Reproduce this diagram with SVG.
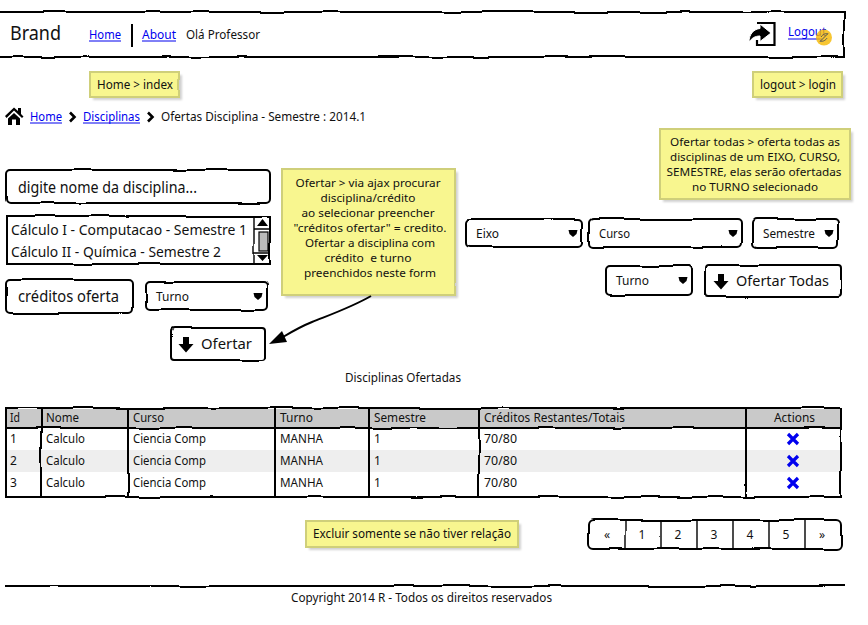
<svg xmlns="http://www.w3.org/2000/svg" width="868" height="625" viewBox="0 0 868 625">
<style>
text{font-family:"Noto Sans","Open Sans","DejaVu Sans",sans-serif;font-size:12px;fill:#111}
.c{text-anchor:middle}
.n{font-size:11px}
.lnk{fill:#0000ee}
.ul{stroke:#0000ee;stroke-width:1;fill:none}
.box{fill:#fff;stroke:#000;stroke-width:2;filter:url(#w)}
.ln{fill:none;stroke:#000;stroke-width:2;filter:url(#w)}
.thin{fill:none;stroke:#000;stroke-width:1.4;filter:url(#w)}
.note{fill:#f8f68f;stroke:#cfcf7a;stroke-width:2;filter:url(#w2)}
.shd{fill:#000;opacity:.18;filter:url(#b)}
.ar{fill:#000}
.x{stroke:#0000ee;stroke-width:3.2;fill:none}
</style>
<defs>
<filter id="w" filterUnits="userSpaceOnUse" x="-10" y="0" width="888" height="625">
<feTurbulence type="fractalNoise" baseFrequency="0.03" numOctaves="1" seed="4"/>
<feDisplacementMap in="SourceGraphic" scale="4" xChannelSelector="R" yChannelSelector="G"/>
</filter>
<filter id="w2" filterUnits="userSpaceOnUse" x="0" y="0" width="868" height="625">
<feTurbulence type="fractalNoise" baseFrequency="0.03" numOctaves="1" seed="9"/>
<feDisplacementMap in="SourceGraphic" scale="2"/>
</filter>
<filter id="b"><feGaussianBlur stdDeviation="1.2"/></filter>
<g id="dn"><path class="ar" d="M-3-8H3V-1H7.500L0 7.500-7.500-1H-3Z"/></g>
<path id="tri" class="ar" d="M-4.500-3H4.500L3.500 1 0 4-3.500 1Z"/>
<path id="chev" d="M-2-4.500 2.500 0-2 4.500" fill="none" stroke="#000" stroke-width="2.600"/>
<path id="xx" class="x" d="M-5-5 5 5M5-5-5 5"/>
</defs>

<g id="navbar">
<rect class="box" x="-6" y="12" width="850" height="45"/>
<text x="10" y="40" style="font-size:19px" textLength="51" lengthAdjust="spacingAndGlyphs">Brand</text>
<text class="lnk" x="89" y="39" style="font-size:13px" textLength="32" lengthAdjust="spacingAndGlyphs">Home</text><path class="ul" d="M89 41H121"/>
<path class="ln" d="M132 24V47"/>
<text class="lnk" x="142" y="39" style="font-size:13px" textLength="34" lengthAdjust="spacingAndGlyphs">About</text><path class="ul" d="M142 41H176"/>
<text x="186" y="39" style="font-size:13px" textLength="74" lengthAdjust="spacingAndGlyphs">Olá Professor</text>
<g id="logout-icon"><path d="M757 23H774.500V45H757V40" fill="none" stroke="#000" stroke-width="2.200"/><path class="ar" d="M749 42C749 34 754 29 760 28.500V24L771 33 760 41.500V36C755 36 752 38 749 42Z" stroke="#fff" stroke-width="1"/></g>
<text class="lnk" x="788" y="36" style="font-size:13px" textLength="38" lengthAdjust="spacingAndGlyphs">Logout</text><path class="ul" d="M788 39H822"/>
<circle cx="824" cy="37.500" r="8" fill="#f5b800" opacity=".8"/>
<path d="M820 41.500 828 33.500M821 37C823 34 826 33 828 34M820 41C823 42 826 40 827 38" stroke="#555" stroke-width="1" fill="none"/>
</g>

<g id="note-home"><rect class="shd" x="93" y="75" width="89" height="25"/><rect class="note" x="90" y="72" width="89" height="25"/><text x="97" y="89" style="font-size:13px" textLength="76" lengthAdjust="spacingAndGlyphs">Home &gt; index</text></g>
<g id="note-logout"><rect class="shd" x="756" y="75" width="89" height="25"/><rect class="note" x="753" y="72" width="89" height="25"/><text x="760" y="89" style="font-size:13px" textLength="76" lengthAdjust="spacingAndGlyphs">logout &gt; login</text></g>

<g id="breadcrumb">
<path class="ar" d="M5 116 14 107.500 18 111V108H21V114L23.500 116.500 22 118 14 110.500 6.500 118ZM8 118.500 14 113 20 118.500V125H16V119.500H12V125H8Z"/>
<text class="lnk" x="30" y="121" textLength="32" lengthAdjust="spacingAndGlyphs">Home</text><path class="ul" d="M30 123H62"/>
<use href="#chev" x="72" y="117"/>
<text class="lnk" x="83" y="121" textLength="57" lengthAdjust="spacingAndGlyphs">Disciplinas</text><path class="ul" d="M83 123H140"/>
<use href="#chev" x="150" y="117"/>
<text x="161" y="121" textLength="205" lengthAdjust="spacingAndGlyphs">Ofertas Disciplina - Semestre : 2014.1</text>
</g>

<g id="note-ofertar-todas"><rect class="shd" x="663" y="132" width="190" height="70"/><rect class="note" x="660" y="129" width="190" height="70"/>
<text class="c n" x="755" y="146" textLength="170" lengthAdjust="spacingAndGlyphs">Ofertar todas &gt; oferta todas as</text>
<text class="c n" x="755" y="161" textLength="170" lengthAdjust="spacingAndGlyphs">disciplinas de um EIXO, CURSO,</text>
<text class="c n" x="754" y="176" textLength="175" lengthAdjust="spacingAndGlyphs">SEMESTRE, elas serão ofertadas</text>
<text class="c n" x="755" y="191" textLength="126" lengthAdjust="spacingAndGlyphs">no TURNO selecionado</text></g>

<g id="input-disciplina"><rect class="box" x="6" y="170" width="264" height="33" rx="4"/><text x="18" y="193" style="font-size:15.500px" textLength="179" lengthAdjust="spacingAndGlyphs">digite nome da disciplina...</text></g>

<g id="listbox"><rect class="box" x="7" y="216" width="263" height="48"/>
<text x="11" y="235" style="font-size:15px" textLength="236" lengthAdjust="spacingAndGlyphs">Cálculo I - Computacao - Semestre 1</text>
<text x="11" y="257" style="font-size:15px" textLength="210" lengthAdjust="spacingAndGlyphs">Cálculo II - Química - Semestre 2</text>
<path class="thin" d="M254 216V264M254 229H270M254 253H270"/>
<path class="ar" d="M262.500 219 268 226H257ZM257 255H268L262.500 261Z"/>
<rect x="259" y="232" width="9" height="19" fill="#bbb" stroke="#000" stroke-width="1.200"/>
</g>

<g id="input-creditos"><rect class="box" x="6" y="280" width="127" height="33" rx="4"/><text x="18" y="302" style="font-size:15.500px" textLength="101" lengthAdjust="spacingAndGlyphs">créditos oferta</text></g>
<g id="select-turno-1"><rect class="box" x="146" y="282" width="121" height="28" rx="4"/><text x="156" y="301" textLength="33" lengthAdjust="spacingAndGlyphs">Turno</text><use href="#tri" x="258" y="296"/></g>
<g id="btn-ofertar"><rect class="box" x="171" y="328" width="94" height="32" rx="3"/><use href="#dn" x="186" y="345"/><text x="201" y="349" style="font-size:15px" textLength="51" lengthAdjust="spacingAndGlyphs">Ofertar</text></g>

<g id="note-ofertar"><rect class="shd" x="285" y="172" width="173" height="126"/><rect class="note" x="282" y="169" width="173" height="126"/>
<text class="c n" x="368" y="187" textLength="145" lengthAdjust="spacingAndGlyphs">Ofertar &gt; via ajax procurar</text>
<text class="c n" x="368" y="202" textLength="95" lengthAdjust="spacingAndGlyphs">disciplina/crédito</text>
<text class="c n" x="368" y="217" textLength="133" lengthAdjust="spacingAndGlyphs">ao selecionar preencher</text>
<text class="c n" x="370" y="232" textLength="153" lengthAdjust="spacingAndGlyphs">"créditos ofertar" = credito.</text>
<text class="c n" x="370" y="247" textLength="130" lengthAdjust="spacingAndGlyphs">Ofertar a disciplina com</text>
<text class="c n" x="368" y="262" textLength="87" lengthAdjust="spacingAndGlyphs" xml:space="preserve">crédito  e turno</text>
<text class="c n" x="370" y="277" textLength="132" lengthAdjust="spacingAndGlyphs">preenchidos neste form</text></g>

<g id="connectors">
<path d="M371 296C352 307 332 314 312 322C302 326 293 331 283 337" fill="none" stroke="#000" stroke-width="2"/>
<path class="ar" d="M269 344 282 331 287 342Z"/>
</g>

<g id="select-eixo"><rect class="box" x="466" y="219" width="116" height="28" rx="4"/><text x="476" y="238" textLength="23" lengthAdjust="spacingAndGlyphs">Eixo</text><use href="#tri" x="573" y="233"/></g>
<g id="select-curso"><rect class="box" x="589" y="219" width="153" height="28" rx="4"/><text x="599" y="238" textLength="31" lengthAdjust="spacingAndGlyphs">Curso</text><use href="#tri" x="733" y="233"/></g>
<g id="select-semestre"><rect class="box" x="753" y="219" width="85" height="28" rx="4"/><text x="763" y="238" textLength="52" lengthAdjust="spacingAndGlyphs">Semestre</text><use href="#tri" x="829" y="233"/></g>
<g id="select-turno-2"><rect class="box" x="606" y="266" width="86" height="29" rx="4"/><text x="616" y="285" textLength="33" lengthAdjust="spacingAndGlyphs">Turno</text><use href="#tri" x="683" y="280"/></g>
<g id="btn-ofertar-todas"><rect class="box" x="706" y="265" width="135" height="32" rx="3"/><use href="#dn" x="721" y="282"/><text x="736" y="286" style="font-size:15px" textLength="93" lengthAdjust="spacingAndGlyphs">Ofertar Todas</text></g>

<g id="title"><text x="345" y="382" textLength="116" lengthAdjust="spacingAndGlyphs">Disciplinas Ofertadas</text></g>

<g id="table">
<rect x="7" y="409" width="834" height="19" fill="#c9c9c9"/>
<rect x="7" y="450" width="834" height="22" fill="#eee"/>
<rect class="ln" x="6" y="408" width="835" height="89"/>
<path class="ln" d="M6 428H841M41 407V498M128 407V498M275 407V498M369 407V498M479 407V498M746 407V498"/>
<text x="10" y="422" textLength="10" lengthAdjust="spacingAndGlyphs">Id</text>
<text x="46" y="422" textLength="33" lengthAdjust="spacingAndGlyphs">Nome</text>
<text x="133" y="422" textLength="31" lengthAdjust="spacingAndGlyphs">Curso</text>
<text x="280" y="422" textLength="33" lengthAdjust="spacingAndGlyphs">Turno</text>
<text x="374" y="422" textLength="52" lengthAdjust="spacingAndGlyphs">Semestre</text>
<text x="484" y="422" textLength="141" lengthAdjust="spacingAndGlyphs">Créditos Restantes/Totais</text>
<text x="774" y="422" textLength="41" lengthAdjust="spacingAndGlyphs">Actions</text>
<g id="row1"><text x="10" y="443">1</text><text x="46" y="443" textLength="39" lengthAdjust="spacingAndGlyphs">Calculo</text><text x="133" y="443" textLength="73" lengthAdjust="spacingAndGlyphs">Ciencia Comp</text><text x="280" y="443" textLength="43" lengthAdjust="spacingAndGlyphs">MANHA</text><text x="374" y="443">1</text><text x="484" y="443" textLength="33" lengthAdjust="spacingAndGlyphs">70/80</text><use href="#xx" x="793" y="439"/></g>
<g id="row2"><text x="10" y="465">2</text><text x="46" y="465" textLength="39" lengthAdjust="spacingAndGlyphs">Calculo</text><text x="133" y="465" textLength="73" lengthAdjust="spacingAndGlyphs">Ciencia Comp</text><text x="280" y="465" textLength="43" lengthAdjust="spacingAndGlyphs">MANHA</text><text x="374" y="465">1</text><text x="484" y="465" textLength="33" lengthAdjust="spacingAndGlyphs">70/80</text><use href="#xx" x="793" y="461"/></g>
<g id="row3"><text x="10" y="487">3</text><text x="46" y="487" textLength="39" lengthAdjust="spacingAndGlyphs">Calculo</text><text x="133" y="487" textLength="73" lengthAdjust="spacingAndGlyphs">Ciencia Comp</text><text x="280" y="487" textLength="43" lengthAdjust="spacingAndGlyphs">MANHA</text><text x="374" y="487">1</text><text x="484" y="487" textLength="33" lengthAdjust="spacingAndGlyphs">70/80</text><use href="#xx" x="793" y="483"/></g>
</g>

<g id="note-excluir"><rect class="shd" x="309" y="524" width="212" height="26"/><rect class="note" x="306" y="521" width="212" height="26"/><text x="313" y="538" textLength="198" lengthAdjust="spacingAndGlyphs">Excluir somente se não tiver relação</text></g>

<g id="pagination"><rect class="box" x="589" y="520" width="252" height="29" rx="5"/>
<path class="thin" d="M625 521V548M661 521V548M697 521V548M733 521V548M769 521V548M805 521V548"/>
<text class="c" x="607" y="539">«</text><text class="c" x="642" y="539">1</text><text class="c" x="678" y="539">2</text><text class="c" x="714" y="539">3</text><text class="c" x="750" y="539">4</text><text class="c" x="786" y="539">5</text><text class="c" x="822" y="539">»</text></g>

<g id="footer"><path class="ln" d="M5 586H845"/><text x="291" y="602" textLength="261" lengthAdjust="spacingAndGlyphs">Copyright 2014 R - Todos os direitos reservados</text></g>
</svg>
